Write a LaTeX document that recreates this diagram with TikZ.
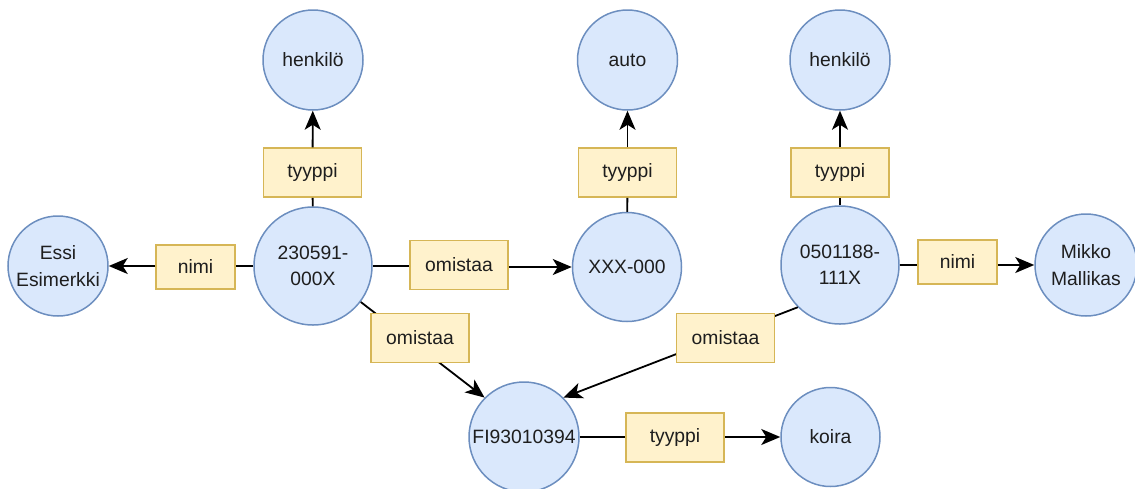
\documentclass[tikz,border=0pt]{standalone}
\usepackage{fontspec}
\setmainfont{Liberation Sans}
\usetikzlibrary{arrows.meta}
\definecolor{cfill}{HTML}{DAE8FC}
\definecolor{cdraw}{HTML}{6C8EBF}
\definecolor{bfill}{HTML}{FFF2CC}
\definecolor{bdraw}{HTML}{D6B656}
\definecolor{txt}{HTML}{1E1E1E}
\begin{document}
\begin{tikzpicture}[x=1pt,y=-1pt,
  ent/.style={circle, draw=cdraw, fill=cfill, line width=1.5pt, minimum size=#1, inner sep=0pt, align=center, font=\fontsize{19.3}{26.5}\selectfont, text=txt},
  rel/.style={draw=bdraw, fill=bfill, line width=1.5pt, minimum width=98pt, minimum height=49pt, inner sep=0pt, font=\fontsize{19.3}{26.5}\selectfont, text=txt},
  relsm/.style={rel, minimum width=79pt, minimum height=44pt},
  conn/.style={line width=1.8pt, draw=black},
  arr/.style={conn, -{Stealth[length=19pt,width=16pt,inset=5pt]}}
]
\useasboundingbox (0,0) rectangle (1135,488);
% entities
\node[ent=100pt] (h1) at (313,60) {henkilö};
\node[ent=100pt] (auto) at (627.5,60) {auto};
\node[ent=100pt] (h2) at (840,60) {henkilö};
\node[ent=100pt] (essi) at (58,266) {Essi\\Esimerkki};
\node[ent=118pt] (p1) at (313,266) {230591-\\000X};
\node[ent=109pt] (car) at (627,267) {XXX-000};
\node[ent=118pt] (p2) at (840,265) {0501188-\\111X};
\node[ent=102pt] (mikko) at (1086,265) {Mikko\\Mallikas};
\node[ent=110pt] (fi) at (524,437) {FI93010394};
\node[ent=99pt] (koira) at (830.5,437) {koira};
% ownership connectors to FI (labels drawn over them)
\draw[arr] (p1.-37) -- (fi.135);
\draw[arr] (p2.225) -- (fi.45);
% relations
\node[rel] (t1) at (312.5,172.5) {tyyppi};
\node[rel] (t2) at (627.5,172.5) {tyyppi};
\node[rel] (t3) at (840,172.5) {tyyppi};
\node[rel] (t4) at (675,437.5) {tyyppi};
\node[relsm] (n1) at (195.5,267) {nimi};
\node[relsm] (n2) at (957.5,262) {nimi};
\node[rel] (o1) at (459,265) {omistaa};
\node[rel] (o2) at (420,338) {omistaa};
\node[rel] (o3) at (725.5,338) {omistaa};
% connectors
\draw[conn] (p1) -- (t1);
\draw[arr] (t1) -- (h1);
\draw[conn] (car) -- (t2);
\draw[arr] (t2) -- (auto);
\draw[conn] (p2) -- (t3);
\draw[arr] (t3) -- (h2);
\draw[conn] (p1.west) -- (n1.east |- p1.west);
\draw[arr] (n1.west |- essi.east) -- (essi.east);
\draw[conn] (p1.east) -- (o1.west |- p1.east);
\draw[arr] (o1.east |- car.west) -- (car.west);
\draw[conn] (p2.east) -- (n2.west |- p2.east);
\draw[arr] (n2.east |- mikko.west) -- (mikko.west);
\draw[conn] (fi.east) -- (t4.west |- fi.east);
\draw[arr] (t4.east |- koira.west) -- (koira.west);
\end{tikzpicture}
\end{document}
